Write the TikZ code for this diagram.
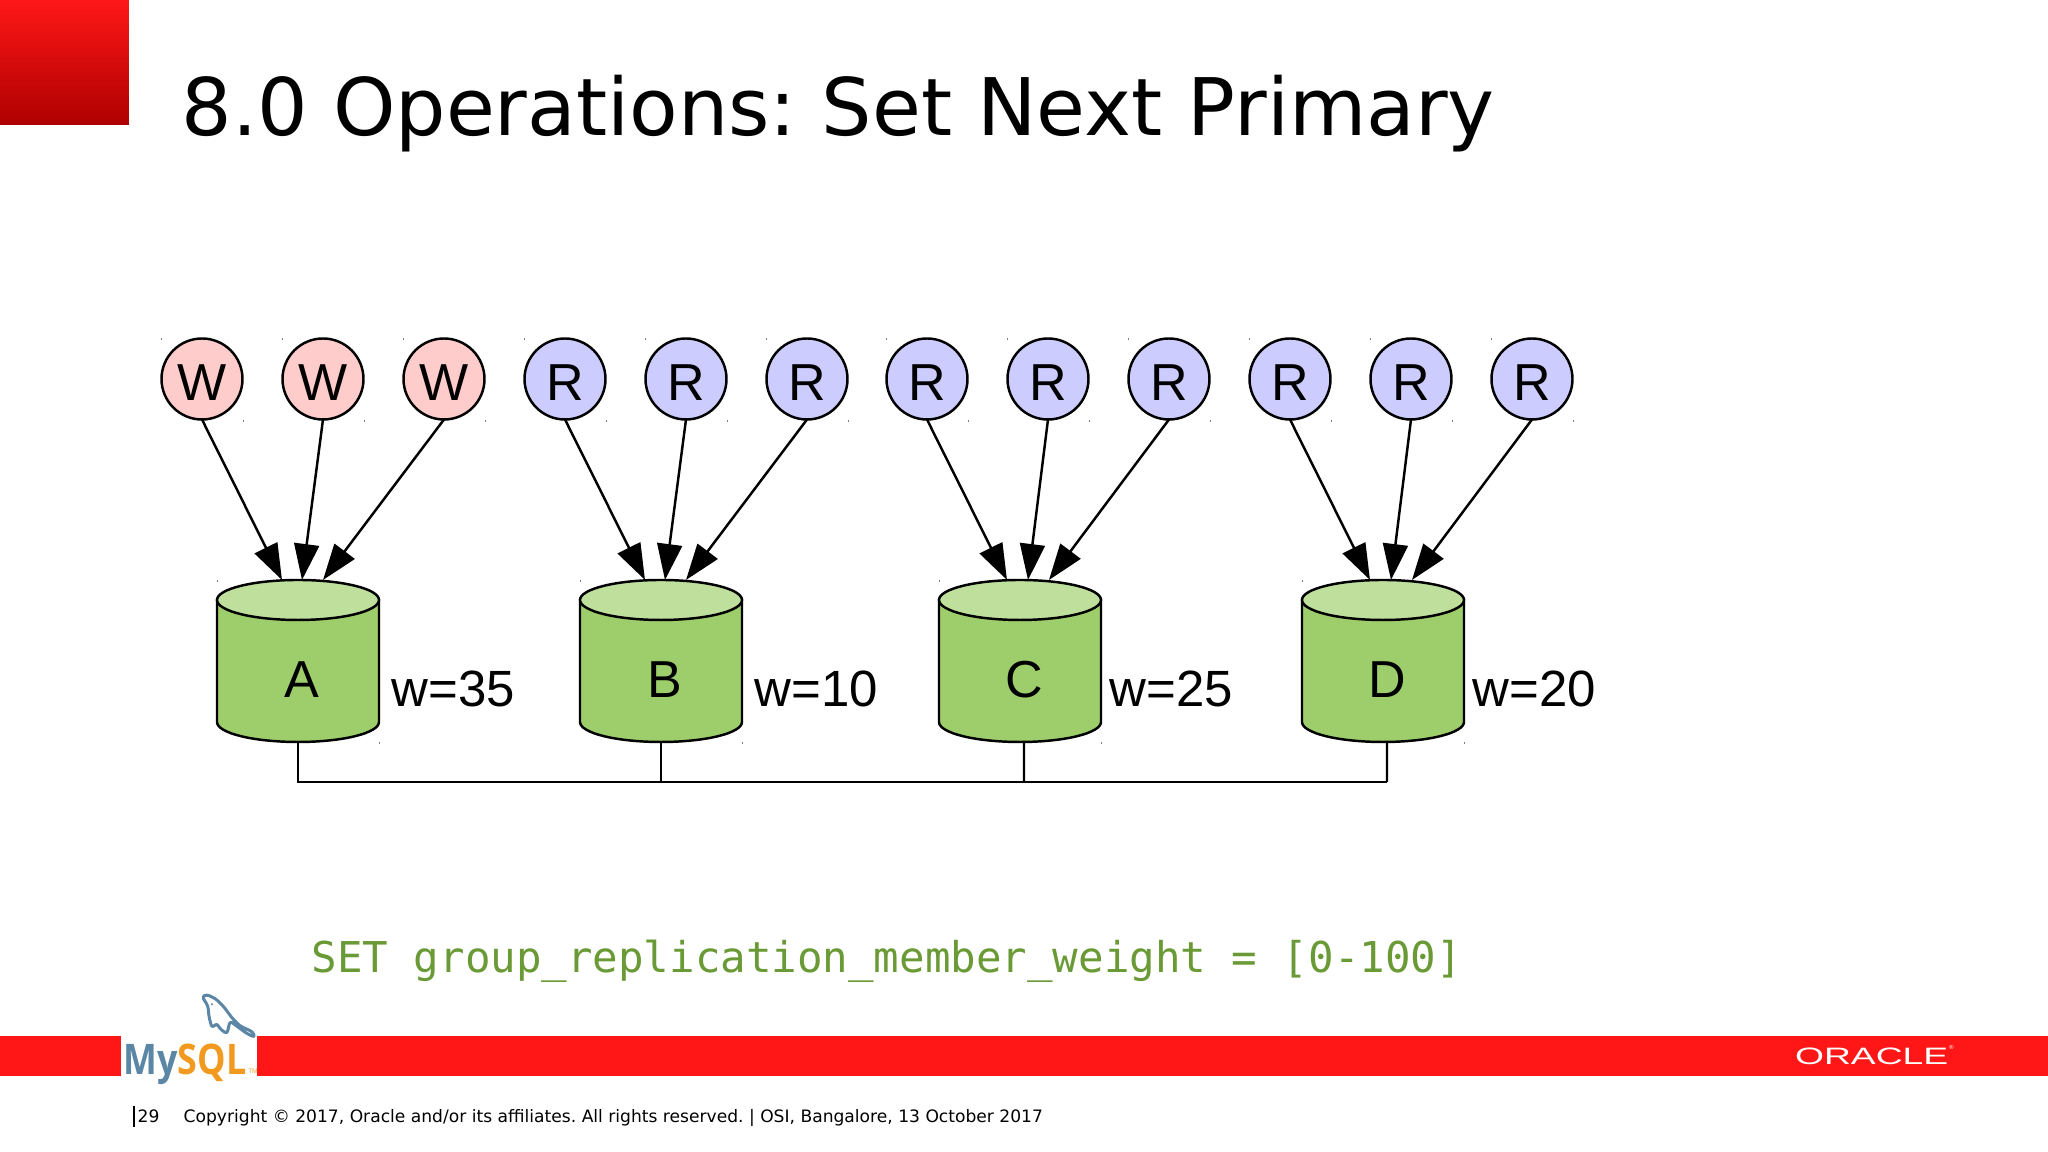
\documentclass[tikz,border=0pt]{standalone}
\usepackage{fontspec}
\setmainfont{Liberation Sans}
\newfontfamily\slidefont{DejaVu Sans}
\newfontfamily\codefont{DejaVu Sans Mono}
\newfontfamily\logofont{Open Sans}
\usetikzlibrary{arrows.meta, calc}
\frenchspacing

\definecolor{barred}{HTML}{FF1717}
\definecolor{darkred}{HTML}{AE0000}
\definecolor{writefill}{HTML}{FFCCCC}
\definecolor{readfill}{HTML}{CCCCFF}
\definecolor{dbbody}{HTML}{9DCE6B}
\definecolor{dbend}{HTML}{BFDF9D}
\definecolor{codegreen}{HTML}{6A9A35}
\definecolor{logoblue}{HTML}{5B86A6}
\definecolor{logoorange}{HTML}{F29A1F}

\tikzset{
  client/.style={circle, draw, line width=0.7pt, minimum size=0.81cm, inner sep=0pt, outer sep=0pt, text height=0.43cm, text depth=0pt, font=\fontsize{14.8}{16}\selectfont},
  writer/.style={client, fill=writefill},
  reader/.style={client, fill=readfill},
  dbbox/.style={rectangle, minimum width=1.62cm, minimum height=1.62cm, inner sep=0pt, outer sep=0pt},
  dbline/.style={draw, line width=0.7pt},
  dbname/.style={anchor=base, inner sep=0pt, font=\fontsize{14.8}{16}\selectfont},
  weight/.style={anchor=base west, inner sep=0pt, font=\fontsize{14.5}{16}\selectfont},
  link/.style={line width=0.7pt, -{Triangle[length=0.36cm,width=0.25cm]}},
  bus/.style={line width=0.7pt},
  tick/.style={gray, line width=0.2pt}
}

\newcommand{\drum}[2]{
  \node[dbbox] (#1) at (#2) {};
  \path[dbline, fill=dbbody] ($(#1.north west)+(0,-0.2)$) -- ($(#1.south west)+(0,0.2)$)
    arc[x radius=0.81cm, y radius=0.2cm, start angle=180, end angle=360]
    -- ($(#1.north east)+(0,-0.2)$) -- cycle;
  \path[dbline, fill=dbend] ($(#1.north)+(0,-0.2)$) ellipse[x radius=0.81cm, y radius=0.2cm];
  \draw[tick] ($(#1.north west)$) -- ++(0,-0.02);
  \draw[tick] ($(#1.south east)$) -- ++(0,-0.02);
}
\newcommand{\corners}[1]{
  \draw[tick] ($(#1)+(-0.41,0.41)$) -- ++(0,-0.02);
  \draw[tick] ($(#1)+(0.41,-0.41)$) -- ++(0,-0.02);
}

\begin{document}
\begin{tikzpicture}
\useasboundingbox (0,0) rectangle (20.48,11.52);

% slide furniture
\shade[top color=barred, bottom color=darkred] (0,10.27) rectangle (1.29,11.52);
\fill[barred] (0,0.76) rectangle (20.48,1.16);
\fill[white] (1.21,0.76) rectangle (2.57,1.16);

\node[anchor=base west, inner sep=0pt, font=\slidefont\fontsize{22.6}{26}\selectfont] (title) at (1.81,10.16) {8.0 Operations: Set Next Primary};

% clients
\node[writer] (w1) at (2.02,7.73) {W};
\node[writer] (w2) at (3.23,7.73) {W};
\node[writer] (w3) at (4.44,7.73) {W};
\node[reader] (r1) at (5.65,7.73) {R};
\node[reader] (r2) at (6.86,7.73) {R};
\node[reader] (r3) at (8.07,7.73) {R};
\node[reader] (r4) at (9.27,7.73) {R};
\node[reader] (r5) at (10.48,7.73) {R};
\node[reader] (r6) at (11.69,7.73) {R};
\node[reader] (r7) at (12.90,7.73) {R};
\node[reader] (r8) at (14.11,7.73) {R};
\node[reader] (r9) at (15.32,7.73) {R};

\corners{w1} \corners{w2} \corners{w3}
\corners{r1} \corners{r2} \corners{r3}
\corners{r4} \corners{r5} \corners{r6}
\corners{r7} \corners{r8} \corners{r9}

% servers
\drum{a}{2.98,4.91}
\drum{b}{6.61,4.91}
\drum{c}{10.20,4.91}
\drum{d}{13.83,4.91}

\node[dbname] (aname) at (3.02,4.54) {A};
\node[dbname] (bname) at (6.65,4.54) {B};
\node[dbname] (cname) at (10.24,4.54) {C};
\node[dbname] (dname) at (13.87,4.54) {D};

\node[weight] (aw) at (3.91,4.45) {w=35};
\node[weight] (bw) at (7.54,4.45) {w=10};
\node[weight] (cw) at (11.09,4.45) {w=25};
\node[weight] (dw) at (14.72,4.45) {w=20};

\draw[link] (w1.south) -- ([xshift=-0.16cm]a.north);
\draw[link] (w2.south) -- ([xshift=0.04cm]a.north);
\draw[link] (w3.south) -- ([xshift=0.25cm]a.north);
\draw[link] (r1.south) -- ([xshift=-0.16cm]b.north);
\draw[link] (r2.south) -- ([xshift=0.04cm]b.north);
\draw[link] (r3.south) -- ([xshift=0.25cm]b.north);
\draw[link] (r4.south) -- ([xshift=-0.13cm]c.north);
\draw[link] (r5.south) -- ([xshift=0.08cm]c.north);
\draw[link] (r6.south) -- ([xshift=0.29cm]c.north);
\draw[link] (r7.south) -- ([xshift=-0.13cm]d.north);
\draw[link] (r8.south) -- ([xshift=0.08cm]d.north);
\draw[link] (r9.south) -- ([xshift=0.29cm]d.north);

% shared bus
\coordinate (abus) at (2.98,3.70);
\coordinate (bbus) at (6.61,3.70);
\coordinate (cbus) at (10.24,3.70);
\coordinate (dbus) at (13.87,3.70);
\draw[bus] (a.south) -- (abus) -- (dbus);
\draw[bus] (b.south) -- (bbus);
\draw[bus] ([xshift=0.04cm]c.south) -- (cbus);
\draw[bus] ([xshift=0.04cm]d.south) -- (dbus);

\node[anchor=base west, inner sep=0pt, text=codegreen, font=\codefont\fontsize{12.08}{14}\selectfont] (code) at (3.11,1.79) {SET group\_replication\_member\_weight = [0-100]};

% logos
\node[anchor=base west, inner sep=0pt, xscale=0.85, font=\logofont\bfseries\fontsize{12}{14}\selectfont] (mysql) at (1.23,0.77) {\textcolor{logoblue}{My}\textcolor{logoorange}{SQL}};
\node[anchor=base west, inner sep=0pt, text=logoorange, font=\logofont\fontsize{1.8}{2}\selectfont] (tm) at (2.48,0.78) {TM};
\draw[logoblue, line width=0.85pt, rounded corners=0.03cm, line join=round] (2.02,1.555) -- (2.07,1.575) -- (2.16,1.53) -- (2.24,1.45) -- (2.32,1.34) -- (2.40,1.26) -- (2.53,1.20) -- (2.55,1.145) -- (2.46,1.19) -- (2.38,1.25) -- (2.30,1.31) -- (2.27,1.18) -- (2.19,1.24) -- (2.17,1.29) -- (2.12,1.24) -- (2.09,1.35) -- (2.08,1.46) -- cycle;
\fill[logoblue] (2.12,1.477) circle[radius=0.012cm];

\node[anchor=base west, inner sep=0pt, text=white, font=\fontsize{6.75}{8}\selectfont, xscale=1.57] (oracle) at (17.94,0.87) {ORACLE};
\node[anchor=base west, inner sep=0pt, text=white, font=\slidefont\fontsize{1.6}{2}\selectfont] (reg) at (19.48,1.02) {®};

% footer
\draw[line width=0.5pt] (1.34,0.46) -- (1.34,0.25);
\node[anchor=base west, inner sep=0pt, font=\slidefont\fontsize{4.87}{6}\selectfont] (page) at (1.37,0.29) {29};
\node[anchor=base west, inner sep=0pt, font=\slidefont\fontsize{4.87}{6}\selectfont] (copyright) at (1.83,0.29) {Copyright © 2017, Oracle and/or its affiliates. All rights reserved. | OSI, Bangalore, 13 October 2017};
\end{tikzpicture}
\end{document}
